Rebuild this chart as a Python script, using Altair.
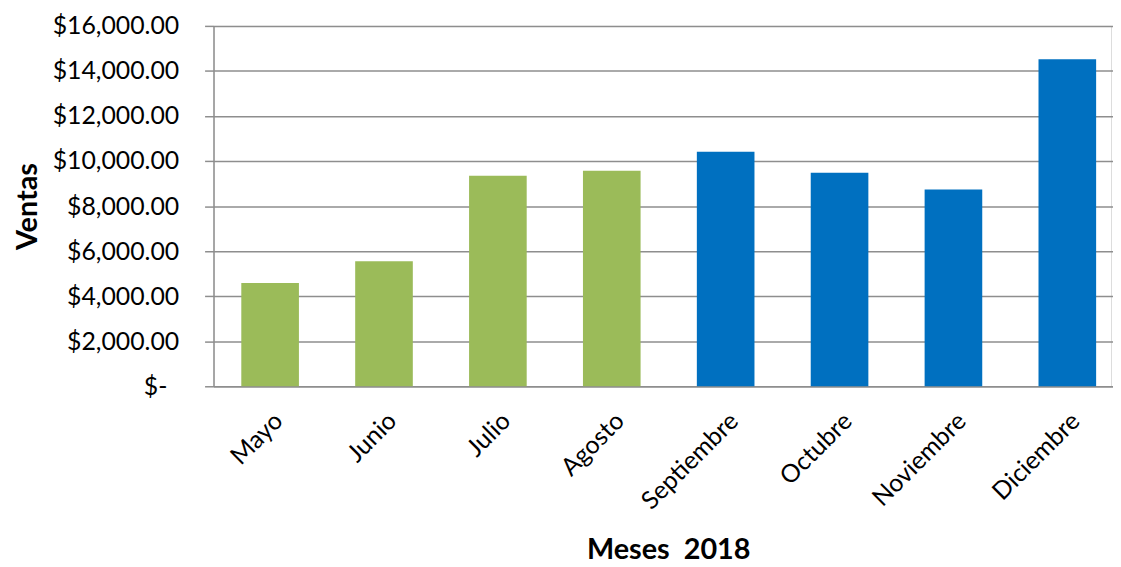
import altair as alt
import pandas as pd

meses = ["Mayo", "Junio", "Julio", "Agosto", "Septiembre", "Octubre", "Noviembre", "Diciembre"]
ventas = [4590, 5550, 9350, 9570, 10410, 9485, 8735, 14515]
y_ticks = [0, 2000, 4000, 6000, 8000, 10000, 12000, 14000, 16000]

df = pd.DataFrame({"Mes": meses, "Ventas": ventas})

GREEN = "#9BBB59"
BLUE = "#0070C0"
GRID = "#8E8E8E"
FONT = "Lato"

bars = alt.Chart(df).mark_bar().encode(
    x=alt.X(
        "Mes:N",
        sort=meses,
        scale=alt.Scale(range=[0, 917], paddingInner=0.494, paddingOuter=0.244),
        axis=alt.Axis(
            title="Meses \u00a02018",
            titleFont=FONT, titleFontSize=29, titleFontWeight="bold", titleColor="#000000",
            titleX=458, titleY=164, titleAnchor="middle", titleBaseline="middle",
            labelAngle=-45, labelFont=FONT, labelFontSize=25, labelColor="#000000",
            labelPadding=22, ticks=False, domainColor=GRID, domainWidth=1.5,
            grid=False,
        ),
    ),
    y=alt.Y(
        "Ventas:Q",
        scale=alt.Scale(domain=[0, 16000], nice=False),
        axis=alt.Axis(
            values=y_ticks,
            labelExpr="datum.value == 0 ? '$-' : '$' + format(datum.value, ',.2f')",
            title="Ventas",
            titleFont=FONT, titleFontSize=29, titleFontWeight="bold", titleColor="#000000",
            titleX=-187, titleY=181.5, titleAngle=-90, titleAnchor="middle", titleBaseline="middle",
            labelFont=FONT, labelFontSize=25, labelColor="#000000",
            labelPadding=alt.condition("datum.value == 0", alt.value(38), alt.value(26)),
            tickSize=9, tickColor=GRID, tickWidth=1.5,
            domainColor=GRID, domainWidth=1.5,
            grid=True, gridColor=GRID, gridWidth=1.5,
        ),
    ),
    color=alt.condition(
        alt.FieldOneOfPredicate(field="Mes", oneOf=meses[:4]),
        alt.value(GREEN),
        alt.value(BLUE),
    ),
)

chart = bars.properties(
    width=904,
    height=363,
    autosize=alt.AutoSizeParams(type="none"),
    padding={"left": 207, "top": 16, "right": 2, "bottom": 180},
).configure_view(stroke=None).configure(background="#FFFFFF")

chart.save("out.html", embed_options={"renderer": "svg", "actions": False})
